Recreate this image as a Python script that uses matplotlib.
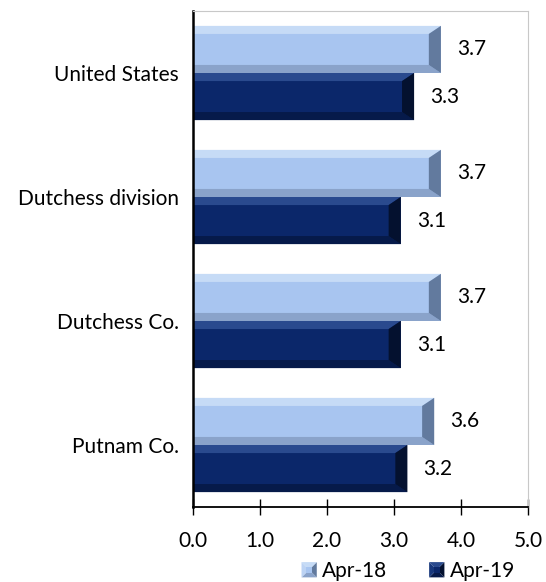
import matplotlib
matplotlib.use("Agg")
import matplotlib.pyplot as plt
from matplotlib.patches import Polygon, Rectangle
from matplotlib.legend_handler import HandlerBase

# data
categories = ["United States", "Dutchess division", "Dutchess Co.", "Putnam Co."]
apr18 = [3.7, 3.7, 3.7, 3.6]
apr19 = [3.3, 3.1, 3.1, 3.2]
series_names = ["Apr-18", "Apr-19"]
xticks = [0.0, 1.0, 2.0, 3.0, 4.0, 5.0]

# fill, top, bottom, left, right shades
light = dict(fill="#a8c5f0", top="#c6dbf6", bottom="#8aa3ca", left="#bcd3f4", right="#627a9e")
dark = dict(fill="#0b276a", top="#2a4a8e", bottom="#061a4a", left="#17377c", right="#04112f")

plt.rcParams["font.family"] = ["Lato", "DejaVu Sans"]
FS = 15


def bevel_bar(ax, y0, y1, x1, c, bx=0.18, by=0.065):
    # y0 is top edge (axis inverted), y1 bottom edge
    ax.add_patch(Rectangle((0, y0), x1, y1 - y0, facecolor=c["fill"], edgecolor="none"))
    ax.add_patch(Polygon([(0, y0), (x1, y0), (x1 - bx, y0 + by), (0, y0 + by)],
                         facecolor=c["top"], edgecolor="none"))
    ax.add_patch(Polygon([(0, y1), (x1, y1), (x1 - bx, y1 - by), (0, y1 - by)],
                         facecolor=c["bottom"], edgecolor="none"))
    ax.add_patch(Polygon([(x1, y0), (x1, y1), (x1 - bx, y1 - by), (x1 - bx, y0 + by)],
                         facecolor=c["right"], edgecolor="none"))


class BevelHandler(HandlerBase):
    def __init__(self, c):
        super().__init__()
        self.c = c

    def create_artists(self, legend, orig_handle, xdescent, ydescent, width, height, fontsize, trans):
        s = height
        x0 = width - s - xdescent
        y0 = -ydescent
        cx, cy = x0 + s / 2, y0 + s / 2
        c = self.c
        pts = [(x0, y0), (x0 + s, y0), (x0 + s, y0 + s), (x0, y0 + s)]
        arts = []
        cols = [c["bottom"], c["right"], c["top"], c["left"]]
        for i in range(4):
            p = Polygon([pts[i], pts[(i + 1) % 4], (cx, cy)], facecolor=cols[i],
                        edgecolor="none", transform=trans)
            arts.append(p)
        inner = Rectangle((cx - s * 0.2, cy - s * 0.2), s * 0.4, s * 0.4,
                          facecolor=c["fill"], edgecolor="none", transform=trans)
        arts.append(inner)
        return arts


fig = plt.figure(figsize=(5.46, 5.82), dpi=100)
ax = fig.add_axes([193 / 546, 1 - 507 / 582, 335 / 546, 496 / 582])

h = 0.38
for i, cat in enumerate(categories):
    bevel_bar(ax, i - h, i, apr18[i], light)
    bevel_bar(ax, i, i + h, apr19[i], dark)
    ax.text(apr18[i] + 0.24, i - h / 2, f"{apr18[i]:.1f}", va="center", ha="left", fontsize=FS)
    ax.text(apr19[i] + 0.24, i + h / 2, f"{apr19[i]:.1f}", va="center", ha="left", fontsize=FS)

ax.set_xlim(0, 5)
ax.set_ylim(3.5, -0.5)
ax.set_xticks(xticks)
ax.set_xticklabels([f"{v:.1f}" for v in xticks], fontsize=FS)
ax.set_yticks(range(len(categories)))
ax.set_yticklabels(categories, fontsize=FS)
ax.tick_params(axis="y", length=0, pad=10)
ax.tick_params(axis="x", direction="inout", length=11, width=1.0, pad=12)

for side in ["top", "right"]:
    ax.spines[side].set_color("#c8c8c8")
ax.spines["left"].set_color("black")
ax.spines["left"].set_linewidth(1.8)
ax.spines["bottom"].set_color("black")
ax.spines["bottom"].set_linewidth(1.3)

h1 = Rectangle((0, 0), 1, 1)
h2 = Rectangle((0, 0), 1, 1)
fig.legend([h1, h2], series_names, loc="center", bbox_to_anchor=(408 / 546, 1 - 571 / 582),
           ncol=2, frameon=False, fontsize=FS, handlelength=0.75, handleheight=0.75,
           handletextpad=0.25, columnspacing=2.0,
           handler_map={h1: BevelHandler(light), h2: BevelHandler(dark)})

fig.savefig("out.png", dpi=100)
